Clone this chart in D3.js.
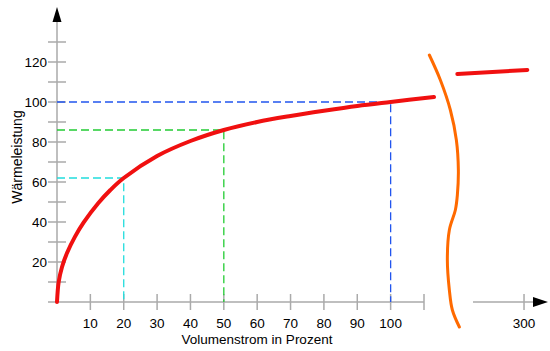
<!DOCTYPE html>
<html>
<head>
<meta charset="utf-8">
<script src="https://cdn.jsdelivr.net/npm/d3@7"></script>
<style>
  body { margin: 0; background: #fff; }
  svg { display: block; font-family: "Liberation Sans", Arial, Helvetica, sans-serif; }
</style>
</head>
<body>
<svg id="chart" width="550" height="351"></svg>
<script>
// Heizkurve: Waermeleistung ueber Volumenstrom (Prozent)
const flowPct = [0, 0.5, 1.5, 3, 5.4, 8, 12.4, 16, 20, 30, 40, 50, 60, 70, 80, 90, 100, 113];
const heatPct = [0, 10, 17.5, 24.5, 32.7, 39.8, 49.5, 56, 62, 73, 80.5, 86, 90, 93, 95.6, 98, 100, 102.5];

// part after the axis break
const flowFar = [280, 301];
const heatFar = [114, 116];

// wavy break line, in chart units
const breakX = [111.6, 114.9, 117.9, 119.7, 120.3, 120, 119.4, 117.6, 117, 117.6, 118.5, 120.6];
const breakY = [123.5, 111, 96, 81, 66, 53.5, 46, 36, 21, 6, -4, -12.5];

const xTicks = [10, 20, 30, 40, 50, 60, 70, 80, 90, 100, 110];
const xLabels = [10, 20, 30, 40, 50, 60, 70, 80, 90, 100];
const yTicks = [10, 20, 30, 40, 50, 60, 70, 80, 90, 100, 110, 120, 130];
const yLabels = [20, 40, 60, 80, 100, 120];

// guide lines
const guides = [
  { flow: 20, heat: 62, color: "#22dddd" },
  { flow: 50, heat: 86, color: "#22cc33" },
  { flow: 100, heat: 100, color: "#2255ee" }
];
const farTicks = [300];

const svg = d3.select("#chart");
const x = d3.scaleLinear().domain([0, 110]).range([57, 424]);
const x2 = d3.scaleLinear().domain([285, 305]).range([474, 540.7]);
const y = d3.scaleLinear().domain([0, 130]).range([302, 42]);

const axisColor = "#aaa";

// x axis (main part)
svg.append("line")
  .attr("x1", 48).attr("x2", x(110))
  .attr("y1", y(0)).attr("y2", y(0))
  .attr("stroke", axisColor).attr("stroke-width", 1.5);
svg.append("g").selectAll("line")
  .data(xTicks).join("line")
  .attr("x1", d => x(d)).attr("x2", d => x(d))
  .attr("y1", y(0) - 8).attr("y2", y(0) + 8)
  .attr("stroke", axisColor).attr("stroke-width", 1.5);
svg.append("g").selectAll("text")
  .data(xLabels).join("text")
  .attr("x", d => x(d)).attr("y", 328)
  .attr("text-anchor", "middle")
  .attr("font-size", 13.5)
  .text(d => d);

// x axis (far part)
svg.append("line")
  .attr("x1", x2(284.7)).attr("x2", 535)
  .attr("y1", y(0)).attr("y2", y(0))
  .attr("stroke", axisColor).attr("stroke-width", 1.5);
svg.append("g").selectAll("line")
  .data(farTicks).join("line")
  .attr("x1", d => x2(d)).attr("x2", d => x2(d))
  .attr("y1", y(0) - 8).attr("y2", y(0) + 8)
  .attr("stroke", axisColor).attr("stroke-width", 1.5);
svg.append("g").selectAll("text")
  .data(farTicks).join("text")
  .attr("x", d => x2(d)).attr("y", 328)
  .attr("text-anchor", "middle")
  .attr("font-size", 13.5)
  .text(d => d);
svg.append("path")
  .attr("d", `M533,${y(0) - 5}L548,${y(0)}L533,${y(0) + 5}Z`)
  .attr("fill", "#000");

// y axis
svg.append("line")
  .attr("x1", x(0)).attr("x2", x(0))
  .attr("y1", y(0)).attr("y2", 20)
  .attr("stroke", axisColor).attr("stroke-width", 1.5);
svg.append("g").selectAll("line")
  .data(yTicks).join("line")
  .attr("x1", x(0) - 9).attr("x2", x(0) + 9)
  .attr("y1", d => y(d)).attr("y2", d => y(d))
  .attr("stroke", axisColor).attr("stroke-width", 1.5);
svg.append("g").selectAll("text")
  .data(yLabels).join("text")
  .attr("x", 47).attr("y", d => y(d))
  .attr("dy", "0.35em")
  .attr("text-anchor", "end")
  .attr("font-size", 13.5)
  .text(d => d);
svg.append("path")
  .attr("d", `M${x(0) - 4.5},22L${x(0)},7L${x(0) + 4.5},22Z`)
  .attr("fill", "#000");

// axis titles
svg.append("text")
  .attr("x", 257).attr("y", 344)
  .attr("text-anchor", "middle")
  .attr("font-size", 13.5)
  .text("Volumenstrom in Prozent");
svg.append("text")
  .attr("transform", "translate(22,157) rotate(-90)")
  .attr("text-anchor", "middle")
  .attr("font-size", 14)
  .text("Wärmeleistung");

// dashed guides
const gg = svg.append("g").attr("fill", "none").attr("stroke-width", 1.3);
guides.forEach(g => {
  gg.append("path")
    .attr("d", `M${x(0)},${y(g.heat)}H${x(g.flow)}V${y(0)}`)
    .attr("stroke", g.color)
    .attr("stroke-dasharray", "8,4");
});

// curve
const pts = flowPct.map((f, i) => [f, heatPct[i]]);
const line = d3.line().x(d => x(d[0])).y(d => y(d[1])).curve(d3.curveCatmullRom.alpha(0.5));
svg.append("path")
  .attr("d", line(pts))
  .attr("fill", "none")
  .attr("stroke", "#f01010")
  .attr("stroke-width", 4)
  .attr("stroke-linecap", "round");

const farPts = flowFar.map((f, i) => [f, heatFar[i]]);
svg.append("path")
  .attr("d", d3.line().x(d => x2(d[0])).y(d => y(d[1]))(farPts))
  .attr("fill", "none")
  .attr("stroke", "#f01010")
  .attr("stroke-width", 4)
  .attr("stroke-linecap", "round");

// break marker
const breakPts = breakX.map((b, i) => [b, breakY[i]]);
svg.append("path")
  .attr("d", d3.line().x(d => x(d[0])).y(d => y(d[1])).curve(d3.curveCatmullRom)(breakPts))
  .attr("fill", "none")
  .attr("stroke", "#ff6a00")
  .attr("stroke-width", 3)
  .attr("stroke-linecap", "round");
</script>
</body>
</html>
